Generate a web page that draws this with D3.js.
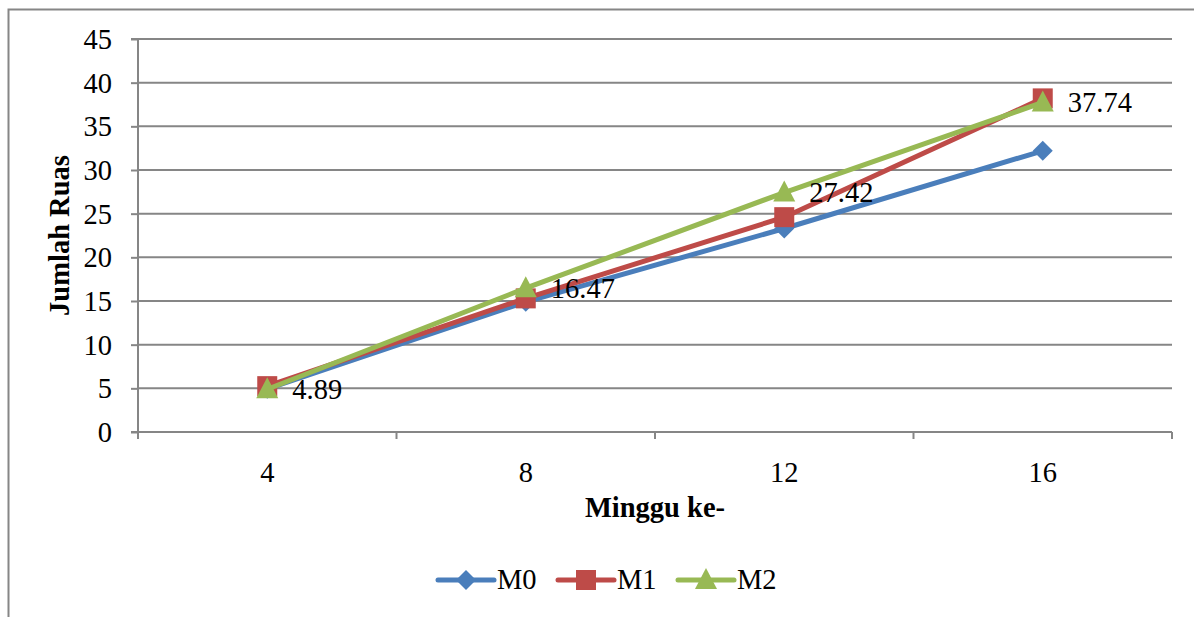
<!DOCTYPE html>
<html><head><meta charset="utf-8">
<script src="https://cdn.jsdelivr.net/npm/d3@7"></script>
<style>body{margin:0;background:#fff}svg{display:block}text{font-family:"Liberation Serif","Times New Roman",serif}</style>
</head><body>
<svg id="c" width="1194" height="617"></svg>
<script>
const categories = ["4","8","12","16"];
const seriesNames = ["M0","M1","M2"];
const m0 = [4.95, 14.9, 23.3, 32.2];
const m1 = [5.25, 15.3, 24.6, 38.2];
const m2 = [4.89, 16.47, 27.42, 37.74];
const yTicks = [0,5,10,15,20,25,30,35,40,45];
const colors = ["#4a7ebb","#be4b48","#98b954"];
const data = [m0, m1, m2];
const FS = 28.5;

const svg = d3.select("#c");
const L = 138, R = 1172, T = 39, B = 432;
const x = d3.scaleBand().domain(categories).range([L, R]).padding(0);
const y = d3.scaleLinear().domain([0,45]).range([B, T]);

// frame
svg.append("path").attr("d","M8.5,617 V9.5 H1194").attr("fill","none").attr("stroke","#868686").attr("stroke-width",2);

// gridlines
svg.append("g").selectAll("line").data(yTicks.filter(d=>d>0)).join("line")
  .attr("x1",L).attr("x2",R).attr("y1",d=>y(d)).attr("y2",d=>y(d))
  .attr("stroke","#868686").attr("stroke-width",2);

// y axis
const ya = svg.append("g").attr("transform",`translate(${L},0)`)
  .call(d3.axisLeft(y).tickValues(yTicks).tickSize(7).tickPadding(19));
ya.attr("font-family",null).attr("font-size",null);
ya.select(".domain").attr("stroke","#868686").attr("stroke-width",2).attr("d",`M-7,${T}H0V${B}H-7`);
ya.selectAll(".tick line").attr("stroke","#868686").attr("stroke-width",2);
ya.selectAll("text").attr("font-size",FS).attr("fill","#000").attr("dy","0.33em");

// x axis
const xa = svg.append("g").attr("transform",`translate(0,${B})`)
  .call(d3.axisBottom(x).tickSize(0));
xa.attr("font-family",null).attr("font-size",null);
xa.select(".domain").attr("stroke","#868686").attr("stroke-width",2).attr("d",`M${L},0H${R}`);
xa.selectAll("text").attr("font-size",FS).attr("fill","#000").attr("y",41).attr("dy","0.33em");
const bounds = [L, ...categories.map(c=>x(c)+x.bandwidth())];
xa.selectAll(".bt").data(bounds).join("line").attr("class","bt")
  .attr("x1",d=>d).attr("x2",d=>d).attr("y1",0).attr("y2",7).attr("stroke","#868686").attr("stroke-width",2);

// axis titles
svg.append("text").attr("x",(L+R)/2).attr("y",508).attr("text-anchor","middle").attr("dy","0.33em")
  .attr("font-size",FS).attr("font-weight","bold").text("Minggu ke-");
svg.append("text").attr("transform",`translate(60,${(T+B)/2}) rotate(-90)`).attr("text-anchor","middle")
  .attr("dy","0.33em").attr("font-size",FS).attr("font-weight","bold").text("Jumlah Ruas");

const cx = c => x(c) + x.bandwidth()/2;
const line = d3.line().x((d,i)=>cx(categories[i])).y(d=>y(d));

function marker(g, kind, px, py, col){
  if(kind===0){
    g.append("path").attr("d",`M${px},${py-10}L${px+10},${py}L${px},${py+10}L${px-10},${py}Z`).attr("fill",col);
  } else if(kind===1){
    g.append("rect").attr("x",px-10).attr("y",py-10).attr("width",20).attr("height",20).attr("fill",col);
  } else {
    g.append("path").attr("d",`M${px},${py-12}L${px+11},${py+9}L${px-11},${py+9}Z`).attr("fill",col);
  }
}

data.forEach((s,k)=>{
  const g = svg.append("g");
  g.append("path").datum(s).attr("d",line).attr("fill","none").attr("stroke",colors[k]).attr("stroke-width",5).attr("stroke-linejoin","round");
  s.forEach((v,i)=>marker(g,k,cx(categories[i]),y(v),colors[k]));
});

// data labels for M2
svg.append("g").selectAll("text").data(m2).join("text")
  .attr("x",(d,i)=>cx(categories[i])+25).attr("y",d=>y(d)).attr("dy","0.33em")
  .attr("font-size",FS).attr("fill","#000").text(d=>d.toFixed(2));

// legend
const lg = svg.append("g");
const lx = [438, 558, 678];
seriesNames.forEach((n,k)=>{
  const gx = lx[k], gy = 580;
  lg.append("line").attr("x1",gx).attr("x2",gx+56).attr("y1",gy).attr("y2",gy).attr("stroke",colors[k]).attr("stroke-width",5).attr("stroke-linecap","round");
  marker(lg,k,gx+28,gy,colors[k]);
  lg.append("text").attr("x",gx+59).attr("y",gy).attr("dy","0.33em").attr("font-size",FS).text(n);
});
</script>
</body></html>
